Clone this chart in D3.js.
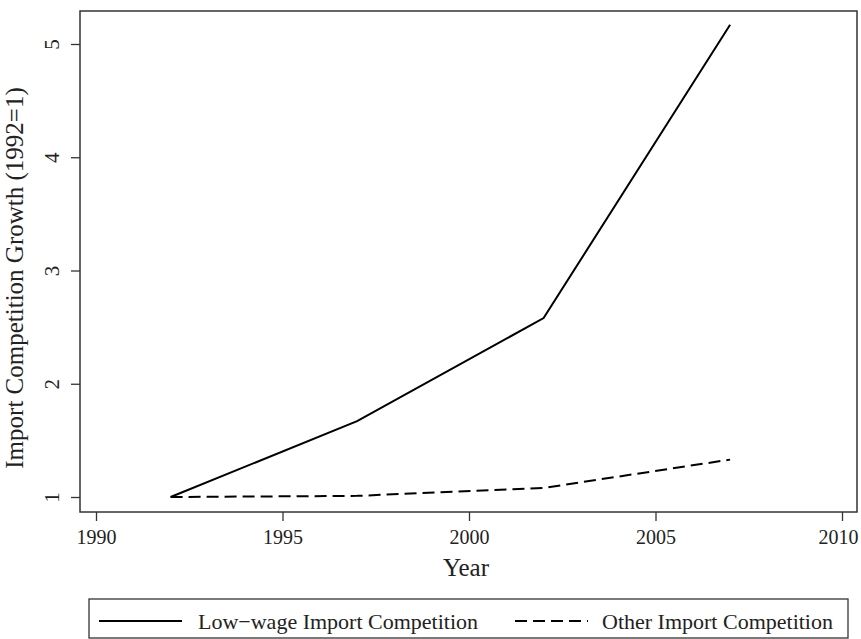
<!DOCTYPE html>
<html>
<head>
<meta charset="utf-8">
<script src="https://cdn.jsdelivr.net/npm/d3@7"></script>
<style>
  body { margin: 0; background: #fff; }
  text { font-family: "Liberation Serif", "DejaVu Serif", serif; fill: #222; }
</style>
</head>
<body>
<div id="chart"></div>
<script>
var svgWidth = 861;
var svgHeight = 639;

// data
var years = [1992, 1997, 2002, 2007];
var lowWage = [1, 1.67, 2.58, 5.17];
var otherImports = [1, 1.01, 1.08, 1.33];
var xTicks = [1990, 1995, 2000, 2005, 2010];
var yTicks = [1, 2, 3, 4, 5];
var seriesNames = ["Low\u2212wage Import Competition", "Other Import Competition"];

var plot = { left: 80, top: 11, right: 857, bottom: 512 };

var svg = d3.select("#chart")
  .append("svg")
  .attr("width", svgWidth)
  .attr("height", svgHeight);

var xScale = d3.scaleLinear()
  .domain([1990, 2010])
  .range([96, 842]);

var yScale = d3.scaleLinear()
  .domain([1, 5])
  .range([497, 44]);

// frame
svg.append("rect")
  .attr("x", plot.left)
  .attr("y", plot.top)
  .attr("width", plot.right - plot.left)
  .attr("height", plot.bottom - plot.top)
  .attr("fill", "none")
  .attr("stroke", "#333")
  .attr("stroke-width", 1.5);

// x axis
var xAxis = svg.append("g")
  .attr("transform", `translate(0, ${plot.bottom})`)
  .call(d3.axisBottom(xScale).tickValues(xTicks).tickFormat(d3.format("d")).tickSize(9).tickPadding(0));
xAxis.select(".domain").remove();
xAxis.selectAll("line").attr("stroke", "#333").attr("stroke-width", 1.3);
xAxis.selectAll("text")
  .attr("y", 32)
  .attr("dy", null)
  .attr("x", d => d === 2010 ? -4 : 0) // keep the last label inside the page
  .style("font-family", "Liberation Serif")
  .style("font-size", "20px")
  .attr("fill", "#222");

// y axis
var yAxis = svg.append("g")
  .attr("transform", `translate(${plot.left}, 0)`)
  .call(d3.axisLeft(yScale).tickValues(yTicks).tickFormat(d3.format("d")).tickSize(9).tickPadding(0));
yAxis.select(".domain").remove();
yAxis.selectAll("line").attr("stroke", "#333").attr("stroke-width", 1.3);
yAxis.selectAll("text")
  .attr("x", null).attr("dy", null)
  .attr("text-anchor", "middle")
  .attr("transform", "translate(-21, 0) rotate(-90)")
  .style("font-family", "Liberation Serif")
  .style("font-size", "21px")
  .attr("fill", "#222");

// axis titles
svg.append("text")
  .attr("x", 466)
  .attr("y", 576)
  .attr("text-anchor", "middle")
  .style("font-size", "25px")
  .text("Year");

svg.append("text")
  .attr("transform", "translate(23, 278) rotate(-90)")
  .attr("text-anchor", "middle")
  .style("font-size", "25px")
  .text("Import Competition Growth (1992=1)");

// lines
var line = d3.line()
  .x((d, i) => xScale(years[i]))
  .y(d => yScale(d));

svg.append("path")
  .datum(lowWage)
  .attr("d", line)
  .attr("fill", "none")
  .attr("stroke", "#000")
  .attr("stroke-width", 2);

svg.append("path")
  .datum(otherImports)
  .attr("d", line)
  .attr("fill", "none")
  .attr("stroke", "#000")
  .attr("stroke-width", 2)
  .attr("stroke-dasharray", "12,6");

// legend
var legend = svg.append("g");
legend.append("rect")
  .attr("x", 89)
  .attr("y", 599)
  .attr("width", 759)
  .attr("height", 39)
  .attr("fill", "none")
  .attr("stroke", "#333")
  .attr("stroke-width", 1.3);

var legendItems = [
  { x1: 99, x2: 182, tx: 198, dash: null },
  { x1: 515, x2: 588, tx: 602, dash: "12,6" }
];
legendItems.forEach(function(item, i) {
  legend.append("line")
    .attr("x1", item.x1).attr("x2", item.x2)
    .attr("y1", 621).attr("y2", 621)
    .attr("stroke", "#000")
    .attr("stroke-width", 2)
    .attr("stroke-dasharray", item.dash);
  legend.append("text")
    .attr("x", item.tx)
    .attr("y", 621)
    .attr("dy", "0.35em")
    .style("font-size", "22px")
    .text(seriesNames[i]);
});
</script>
</body>
</html>
